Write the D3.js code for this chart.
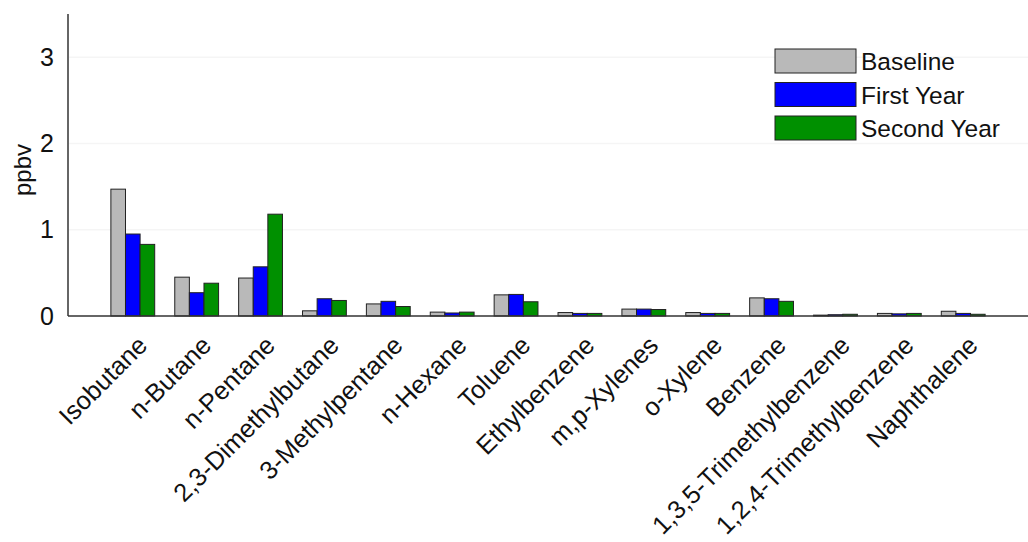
<!DOCTYPE html>
<html lang="en">
<head>
<meta charset="UTF-8">
<title>VOC bars</title>
<script src="https://cdn.jsdelivr.net/npm/d3@7"></script>
<style>
  body { margin: 0; background: #fff; }
  svg { display: block; font-family: "Liberation Sans", Arial, sans-serif; }
</style>
</head>
<body>
<svg width="1028" height="542"></svg>
<script>
// data
var categories = ["Isobutane", "n-Butane", "n-Pentane", "2,3-Dimethylbutane", "3-Methylpentane",
  "n-Hexane", "Toluene", "Ethylbenzene", "m,p-Xylenes", "o-Xylene", "Benzene",
  "1,3,5-Trimethylbenzene", "1,2,4-Trimethylbenzene", "Naphthalene"];
var seriesNames = ["Baseline", "First Year", "Second Year"];
var baseline   = [1.47, 0.45, 0.44, 0.06, 0.14, 0.045, 0.245, 0.04, 0.08, 0.04, 0.21, 0.01, 0.03, 0.055];
var firstYear  = [0.95, 0.27, 0.57, 0.20, 0.17, 0.035, 0.25, 0.03, 0.08, 0.03, 0.20, 0.015, 0.025, 0.03];
var secondYear = [0.83, 0.38, 1.18, 0.18, 0.11, 0.045, 0.165, 0.03, 0.075, 0.03, 0.17, 0.02, 0.03, 0.02];
var yTicks = [0, 1, 2, 3];
var colors = ["#b9b9b9", "#0000ff", "#009000"];

var svg = d3.select("svg");
var width = 1028, height = 542;
var margin = {top: 14, left: 68, right: 0, bottom: 226};
var plotBottom = height - margin.bottom;

var x = d3.scaleBand().domain(categories).range([margin.left + 2, width - 2])
  .paddingInner(0.314).paddingOuter(0.64);
var xs = d3.scaleBand().domain(seriesNames).range([0, x.bandwidth()]);
var y = d3.scaleLinear().domain([0, 3.5]).range([plotBottom, margin.top]);

var table = [baseline, firstYear, secondYear];

// faint grid
svg.append("g").selectAll("line").data(yTicks.slice(1)).enter().append("line")
  .attr("x1", margin.left + 1).attr("x2", width)
  .attr("y1", function(d) { return y(d); }).attr("y2", function(d) { return y(d); })
  .attr("stroke", "#f5f5f5").attr("stroke-width", 1.5);

// bars
var groups = svg.append("g").selectAll("g").data(categories).enter().append("g")
  .attr("transform", function(d) { return "translate(" + x(d) + ",0)"; });
groups.selectAll("rect").data(function(d, i) {
    return seriesNames.map(function(s, j) { return {s: s, v: table[j][i], c: colors[j]}; });
  }).enter().append("rect")
  .attr("x", function(d) { return xs(d.s); })
  .attr("y", function(d) { return y(d.v); })
  .attr("width", xs.bandwidth())
  .attr("height", function(d) { return plotBottom - y(d.v); })
  .attr("fill", function(d) { return d.c; })
  .attr("stroke", "#222").attr("stroke-width", 1);

// axes
var yAxis = svg.append("g").attr("transform", "translate(" + margin.left + ",0)")
  .call(d3.axisLeft(y).tickValues(yTicks).tickSize(0).tickPadding(14).tickFormat(d3.format("d")));
yAxis.select(".domain").remove();
yAxis.selectAll("text").attr("font-size", 25).attr("fill", "#111")
  .attr("font-family", "Liberation Sans, Arial, sans-serif");
svg.append("line").attr("x1", margin.left).attr("x2", margin.left)
  .attr("y1", margin.top).attr("y2", plotBottom).attr("stroke", "#333").attr("stroke-width", 1.5);
svg.append("line").attr("x1", margin.left).attr("x2", width)
  .attr("y1", plotBottom).attr("y2", plotBottom).attr("stroke", "#333").attr("stroke-width", 1.5);

var xAxis = svg.append("g").attr("transform", "translate(0," + plotBottom + ")")
  .call(d3.axisBottom(x).tickSize(0));
xAxis.select(".domain").remove();
xAxis.selectAll("text")
  .attr("font-size", 25.5).attr("fill", "#111")
  .attr("font-family", "Liberation Sans, Arial, sans-serif")
  .attr("text-anchor", "end")
  .attr("dy", 0)
  .attr("y", 0)
  .attr("transform", "translate(16,31) rotate(-45)");

// y label
svg.append("text").attr("transform", "translate(31,170) rotate(-90)")
  .attr("text-anchor", "middle").attr("font-size", 24).attr("fill", "#111").text("ppbv");

// legend
var legend = svg.append("g").attr("transform", "translate(775,49)");
var li = legend.selectAll("g").data(seriesNames).enter().append("g")
  .attr("transform", function(d, i) { return "translate(0," + (i * 33.5) + ")"; });
li.append("rect").attr("width", 81).attr("height", 24)
  .attr("fill", function(d, i) { return colors[i]; }).attr("stroke", "#222").attr("stroke-width", 1);
li.append("text").attr("x", 86).attr("y", 21).attr("font-size", 24.5).attr("fill", "#111")
  .text(function(d) { return d; });
</script>
</body>
</html>
